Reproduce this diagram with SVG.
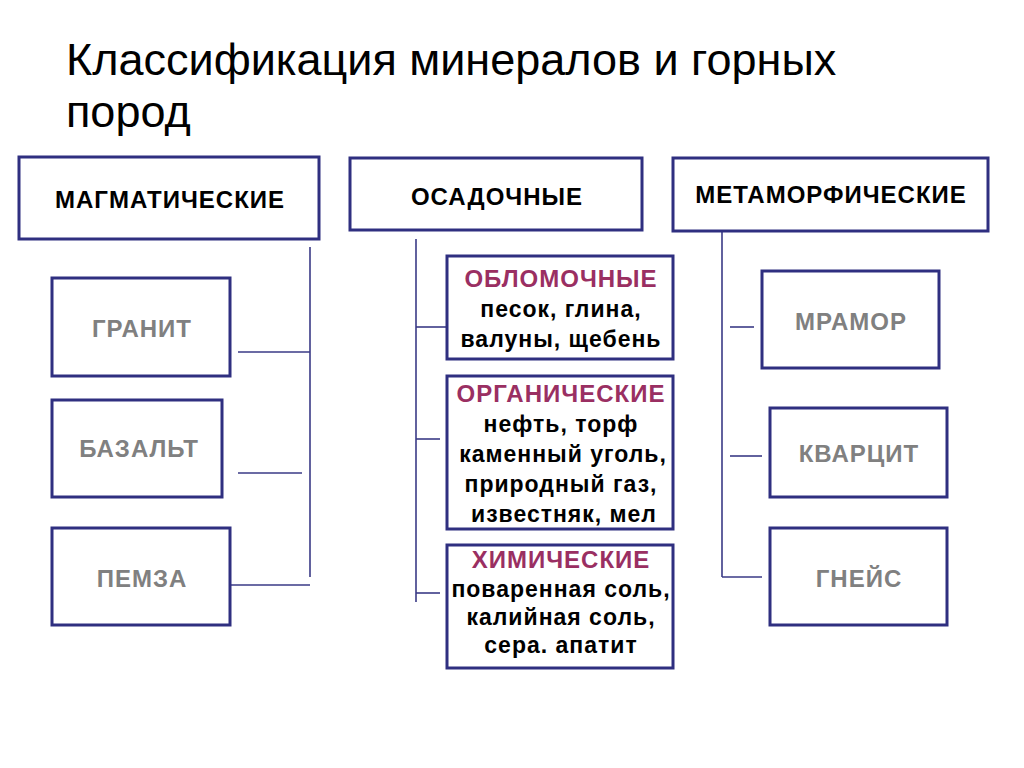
<svg xmlns="http://www.w3.org/2000/svg" width="1024" height="768" viewBox="0 0 1024 768">
<style>
  .box { fill: #ffffff; stroke: #2f2f80; stroke-width: 3; }
  .conn { stroke: #3a3a86; stroke-width: 1.6; fill: none; }
  .title { font-family: "Liberation Sans", Arial, sans-serif; font-size: 45px; fill: #000000; }
  .head { font-family: "Liberation Sans", Arial, sans-serif; font-size: 24px; font-weight: bold; fill: #000000; text-anchor: middle; letter-spacing: 1px; }
  .rock { font-family: "Liberation Sans", Arial, sans-serif; font-size: 24px; font-weight: bold; fill: #808080; text-anchor: middle; letter-spacing: 1px; }
  .sub { font-family: "Liberation Sans", Arial, sans-serif; font-size: 24px; font-weight: bold; fill: #9a2f62; text-anchor: middle; letter-spacing: 1px; }
  .body { font-family: "Liberation Sans", Arial, sans-serif; font-size: 23px; font-weight: bold; fill: #000000; text-anchor: middle; letter-spacing: 1px; }
</style>
<rect width="1024" height="768" fill="#ffffff"/>
<g id="title">
  <text class="title" x="66" y="75">Классификация минералов и горных</text>
  <text class="title" x="66" y="127">пород</text>
</g>
<g id="connectors">
  <line class="conn" x1="310" y1="247" x2="310" y2="577"/>
  <line class="conn" x1="238" y1="352" x2="310" y2="352"/>
  <line class="conn" x1="238" y1="473" x2="302" y2="473"/>
  <line class="conn" x1="230" y1="585" x2="310" y2="585"/>
  <line class="conn" x1="416" y1="239" x2="416" y2="602"/>
  <line class="conn" x1="416" y1="327" x2="447" y2="327"/>
  <line class="conn" x1="416" y1="439" x2="440" y2="439"/>
  <line class="conn" x1="416" y1="593" x2="440" y2="593"/>
  <line class="conn" x1="722" y1="231" x2="722" y2="577"/>
  <line class="conn" x1="722" y1="577" x2="762" y2="577"/>
  <line class="conn" x1="730" y1="327" x2="754" y2="327"/>
  <line class="conn" x1="730" y1="456" x2="762" y2="456"/>
</g>
<g id="magmatic">
  <rect class="box" x="19" y="157" width="300" height="82"/>
  <text class="head" x="170" y="208">МАГМАТИЧЕСКИЕ</text>
</g>
<g id="granite">
  <rect class="box" x="52" y="278" width="178" height="98"/>
  <text class="rock" x="142" y="337">ГРАНИТ</text>
</g>
<g id="basalt">
  <rect class="box" x="52" y="400" width="170" height="97"/>
  <text class="rock" x="139" y="457">БАЗАЛЬТ</text>
</g>
<g id="pumice">
  <rect class="box" x="52" y="528" width="178" height="97"/>
  <text class="rock" x="142" y="587">ПЕМЗА</text>
</g>
<g id="sedimentary">
  <rect class="box" x="350" y="158" width="292" height="72"/>
  <text class="head" x="497" y="205">ОСАДОЧНЫЕ</text>
</g>
<g id="clastic">
  <rect class="box" x="447" y="256" width="226" height="103"/>
  <text class="sub" x="561" y="287">ОБЛОМОЧНЫЕ</text>
  <text class="body" x="561" y="317">песок, глина,</text>
  <text class="body" x="561" y="347">валуны, щебень</text>
</g>
<g id="organic">
  <rect class="box" x="447" y="376" width="226" height="153"/>
  <text class="sub" x="561" y="402">ОРГАНИЧЕСКИЕ</text>
  <text class="body" x="561" y="432">нефть, торф</text>
  <text class="body" x="563" y="462">каменный уголь,</text>
  <text class="body" x="561" y="492">природный газ,</text>
  <text class="body" x="564" y="522">известняк, мел</text>
</g>
<g id="chemical">
  <rect class="box" x="447" y="545" width="226" height="123"/>
  <text class="sub" x="561" y="568">ХИМИЧЕСКИЕ</text>
  <text class="body" x="561" y="597">поваренная соль,</text>
  <text class="body" x="561" y="625">калийная соль,</text>
  <text class="body" x="561" y="653">сера. апатит</text>
</g>
<g id="metamorphic">
  <rect class="box" x="673" y="158" width="315" height="73"/>
  <text class="head" x="831" y="203">МЕТАМОРФИЧЕСКИЕ</text>
</g>
<g id="marble">
  <rect class="box" x="762" y="271" width="177" height="97"/>
  <text class="rock" x="851" y="330">МРАМОР</text>
</g>
<g id="quartzite">
  <rect class="box" x="770" y="408" width="177" height="89"/>
  <text class="rock" x="859" y="462">КВАРЦИТ</text>
</g>
<g id="gneiss">
  <rect class="box" x="770" y="528" width="177" height="97"/>
  <text class="rock" x="859" y="587">ГНЕЙС</text>
</g>
</svg>
